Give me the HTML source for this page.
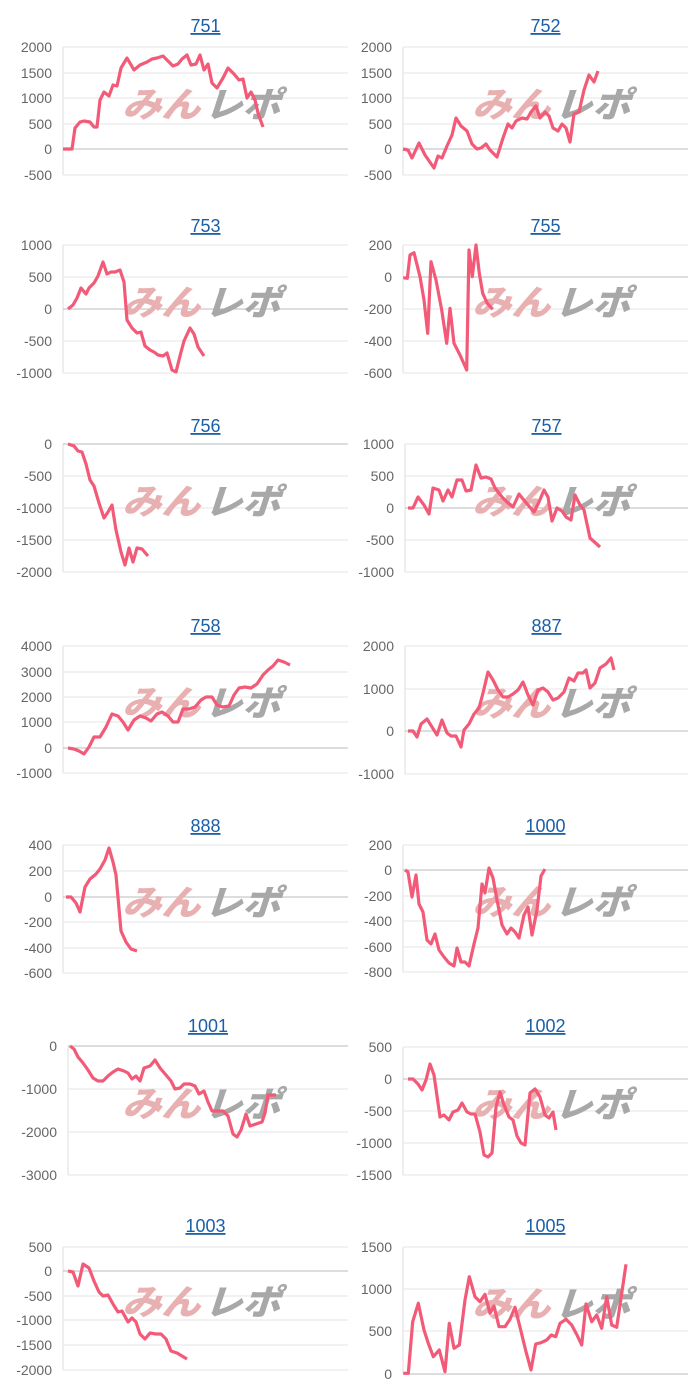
<!DOCTYPE html>
<html><head><meta charset="utf-8"><style>
html,body{margin:0;padding:0;background:#fff;width:700px;height:1400px;overflow:hidden}
svg{display:block}
</style></head><body>
<svg id="s" width="700" height="1400" xmlns="http://www.w3.org/2000/svg" font-family="Liberation Sans, sans-serif"></svg>
<script>
var C=[
{t:"751",L:0,ax:63,ticks:[[2000,47],[1500,73],[1000,98],[500,124],[0,149],[-500,175]],p:[[63,149],[72,149],[75,128],[80,122],[84,121],[90,122],[94,127],[97,127],[100,100],[104,92],[109,96],[113,85],[117,86],[121,68],[127,58],[134,70],[140,65],[147,62],[152,59],[157,58],[163,56],[168,61],[173,66],[178,64],[182,59],[187,55],[191,65],[196,64],[200,55],[204,70],[208,64],[212,83],[217,88],[223,78],[228,68],[234,74],[239,80],[243,79],[247,98],[251,92],[255,100],[258,113],[263,127]]},
{t:"752",L:1,ax:403,ticks:[[2000,47],[1500,73],[1000,98],[500,124],[0,149],[-500,175]],p:[[403,149],[408,150],[412,158],[419,143],[425,155],[434,168],[438,156],[442,158],[447,146],[452,135],[456,118],[461,126],[467,131],[472,144],[477,149],[481,148],[486,144],[490,150],[497,157],[503,138],[508,124],[512,128],[516,121],[522,118],[527,119],[531,112],[536,106],[540,118],[545,112],[549,116],[553,128],[558,131],[562,124],[566,128],[570,142],[574,114],[579,112],[584,90],[589,75],[594,82],[598,71]]},
{t:"753",L:0,ax:63,ticks:[[1000,245],[500,277],[0,309],[-500,341],[-1000,373]],p:[[68,309],[73,305],[77,298],[81,288],[86,294],[89,288],[94,283],[98,276],[103,262],[107,274],[111,272],[115,272],[120,270],[124,282],[127,320],[132,328],[137,333],[141,332],[145,346],[150,350],[154,352],[158,355],[163,356],[167,353],[172,370],[176,372],[180,356],[184,341],[190,328],[194,334],[198,347],[204,356]]},
{t:"755",L:1,ax:403,ticks:[[200,245],[0,277],[-200,309],[-400,341],[-600,373]],z:[[160,233],[172,235],[180,165],[192,158],[210,230],[222,300],[233,400],[243,185],[258,240],[275,330],[290,430],[300,325],[312,430],[330,465],[350,510],[357,150],[367,230],[378,135],[388,220],[398,280],[412,310],[428,328]],zy:200},
{t:"756",L:0,ax:63,ticks:[[0,444],[-500,476],[-1000,508],[-1500,540],[-2000,572]],p:[[68,444],[74,446],[78,451],[82,452],[86,464],[90,480],[94,486],[99,503],[104,518],[108,512],[112,505],[116,530],[121,552],[125,565],[129,548],[133,562],[137,548],[142,549],[148,556]]},
{t:"757",L:1,ax:405,ticks:[[1000,444],[500,476],[0,508],[-500,540],[-1000,572]],p:[[408,508],[413,508],[418,497],[424,505],[429,514],[433,488],[439,490],[443,501],[448,490],[452,497],[457,480],[462,480],[466,491],[471,490],[476,465],[481,478],[486,477],[491,479],[495,488],[502,497],[508,503],[513,507],[519,494],[523,499],[528,505],[534,512],[539,502],[544,490],[548,497],[552,521],[557,508],[562,511],[566,517],[571,520],[575,495],[580,505],[584,510],[590,538],[600,547]]},
{t:"758",L:0,ax:63,ticks:[[4000,646],[3000,672],[2000,697],[1000,722],[0,748],[-1000,773]],p:[[68,748],[74,749],[79,751],[84,754],[89,747],[94,737],[100,737],[106,727],[112,714],[118,716],[123,722],[128,730],[134,720],[140,716],[146,718],[151,721],[157,714],[162,712],[168,716],[173,722],[178,722],[183,709],[189,709],[195,707],[201,700],[206,697],[212,697],[217,705],[223,707],[229,706],[234,695],[239,688],[245,687],[251,688],[257,684],[263,675],[268,670],[273,666],[278,660],[284,662],[290,665]]},
{t:"887",L:1,ax:405,ticks:[[2000,646],[1000,689],[0,731],[-1000,774]],p:[[408,731],[413,731],[417,737],[421,724],[427,719],[432,727],[437,735],[442,720],[447,733],[451,736],[456,736],[461,747],[464,730],[469,724],[474,714],[479,708],[483,693],[488,672],[493,680],[498,690],[503,697],[508,697],[513,694],[518,690],[523,682],[528,695],[533,705],[538,690],[543,688],[548,692],[553,700],[558,698],[564,692],[569,678],[574,681],[578,673],[583,673],[586,670],[590,688],[595,683],[600,668],[606,664],[611,658],[614,670]]},
{t:"888",L:0,ax:63,ticks:[[400,845],[200,871],[0,897],[-200,922],[-400,948],[-600,973]],p:[[66,897],[71,897],[76,903],[80,912],[85,887],[90,879],[96,874],[100,869],[105,860],[109,848],[113,862],[116,875],[121,931],[126,942],[131,949],[137,951]]},
{t:"1000",L:1,ax:403,ticks:[[200,845],[0,870],[-200,896],[-400,921],[-600,947],[-800,972]],p:[[405,870],[408,872],[412,897],[416,875],[419,904],[423,912],[427,940],[431,944],[435,934],[439,950],[444,957],[449,963],[454,966],[457,948],[461,962],[465,962],[469,966],[474,944],[478,928],[482,884],[485,893],[489,868],[493,878],[497,900],[502,925],[507,934],[511,928],[515,932],[519,938],[524,915],[528,907],[532,935],[537,910],[541,876],[545,869]]},
{t:"1001",L:0,ax:68,ticks:[[0,1046],[-1000,1089],[-2000,1132],[-3000,1175]],p:[[70,1046],[74,1049],[78,1057],[83,1063],[88,1070],[93,1078],[98,1081],[103,1081],[108,1076],[113,1072],[118,1069],[124,1071],[128,1073],[132,1079],[136,1076],[140,1081],[144,1068],[150,1066],[155,1060],[160,1068],[166,1075],[171,1081],[175,1089],[180,1088],[184,1084],[190,1084],[195,1086],[199,1094],[204,1091],[208,1102],[212,1111],[218,1111],[223,1111],[228,1116],[233,1134],[237,1137],[241,1130],[246,1114],[250,1126],[256,1124],[262,1122],[265,1113],[268,1095],[276,1095]]},
{t:"1002",L:1,ax:403,ticks:[[500,1047],[0,1079],[-500,1111],[-1000,1143],[-1500,1175]],p:[[408,1079],[413,1079],[418,1084],[422,1090],[426,1080],[430,1064],[434,1075],[440,1117],[444,1115],[449,1120],[453,1112],[458,1110],[462,1103],[467,1112],[471,1114],[475,1114],[480,1132],[484,1155],[488,1157],[492,1153],[496,1107],[500,1092],[504,1105],[509,1117],[513,1120],[517,1136],[521,1143],[525,1145],[530,1093],[535,1089],[540,1097],[545,1115],[549,1118],[553,1112],[556,1130]]},
{t:"1003",L:0,ax:63,ticks:[[500,1247],[0,1271],[-500,1296],[-1000,1320],[-1500,1345],[-2000,1370]],p:[[68,1271],[73,1272],[78,1286],[83,1264],[89,1268],[94,1281],[99,1292],[103,1296],[108,1295],[113,1304],[118,1312],[122,1311],[128,1322],[132,1318],[136,1322],[140,1334],[145,1339],[150,1333],[156,1334],[161,1334],[166,1339],[171,1351],[177,1353],[182,1356],[187,1359]]},
{t:"1005",L:1,ax:403,ticks:[[1500,1247],[1000,1289],[500,1331],[0,1374]],z:[[160,520],[175,520],[188,365],[205,310],[222,390],[235,430],[250,470],[268,450],[285,515],[298,370],[312,445],[328,435],[345,300],[358,230],[375,290],[390,305],[405,283],[420,340],[432,318],[447,380],[465,380],[480,358],[495,322],[512,390],[528,455],[543,510],[557,432],[573,428],[590,420],[604,405],[617,410],[630,370],[648,358],[665,375],[681,405],[695,435],[708,312],[725,365],[740,345],[755,385],[770,290],[785,375],[800,382],[828,193]],zy:1200}
];
var h='';
C.forEach(function(c,i){
 var off=c.L?350:0, right=c.L?688:348, row=Math.floor(i/2), top=row*200;
 var first=c.ticks[0][1], last=c.ticks[c.ticks.length-1][1];
 var cx=(c.ax+right)/2;
 h+='<text x="'+cx+'" y="'+(top+32)+'" font-size="18" fill="#1a5fa8" text-anchor="middle" text-decoration="underline">'+c.t+'</text>';
 h+='<line x1="'+c.ax+'" y1="'+first+'" x2="'+c.ax+'" y2="'+last+'" stroke="#ddd"/>';
 c.ticks.forEach(function(t){
  h+='<line x1="'+c.ax+'" y1="'+t[1]+'" x2="'+right+'" y2="'+t[1]+'" stroke="'+(t[0]==0?'#bbb':'#e6e6e6')+'"/>';
  h+='<text x="'+(c.ax-11)+'" y="'+(t[1]+5)+'" font-size="14" fill="#666" text-anchor="end">'+t[0]+'</text>';
 });
 var my=(first+last)/2, wx=off+200;
 h+='<g transform="translate('+wx+','+(my+6)+') skewX(-18)" font-weight="900" font-size="35" font-family="Noto Sans CJK JP, sans-serif"><text x="-78" y="0" fill="#e8b0b0" textLength="78" lengthAdjust="spacingAndGlyphs">みん</text><text x="4" y="0" fill="#a8a8a8" textLength="76" lengthAdjust="spacingAndGlyphs">レポ</text></g>';
 var pts=c.p?c.p:c.z.map(function(q){return [off+q[0]/3,c.zy+q[1]/3];});
 h+='<polyline fill="none" stroke="#f25a78" stroke-width="3.2" stroke-linejoin="round" points="'+pts.map(function(q){return q[0].toFixed(1)+','+q[1].toFixed(1)}).join(' ')+'"/>';
});
document.getElementById('s').innerHTML=h;
</script>
</body></html>
